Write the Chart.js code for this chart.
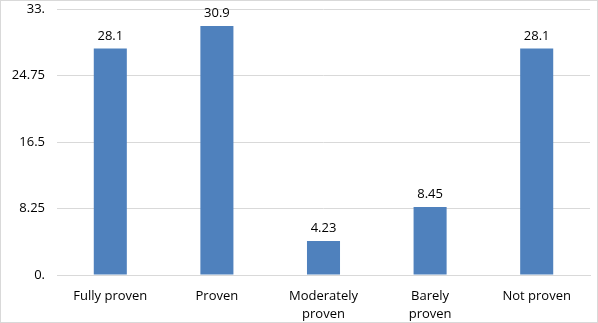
<!DOCTYPE html>
<html>
<head>
<meta charset="utf-8">
<script src="https://cdn.jsdelivr.net/npm/chart.js@4/dist/chart.umd.min.js"></script>
<style>
  body { margin: 0; background: #fff; }
  #wrap { width: 598px; height: 323px; }
</style>
</head>
<body>
<div id="wrap"><canvas id="myChart" width="598" height="323"></canvas></div>
<script>
// chart data
const categories = ['Fully proven', 'Proven', ['Moderately', 'proven'], ['Barely', 'proven'], 'Not proven']
const values = [28.1, 30.9, 4.23, 8.45, 28.1]
const tickValues = [0, 8.25, 16.5, 24.75, 33]
const tickLabels = ['0.', '8.25', '16.5', '24.75', '33.']

const font = "'Open Sans', 'Liberation Sans', sans-serif"

// draws value above each bar + outer border
const extras = {
    id: 'extras',
    beforeDraw: chart => {
        const ctx = chart.ctx
        ctx.save()
        ctx.fillStyle = '#fff'
        ctx.fillRect(0, 0, chart.width, chart.height)
        ctx.strokeStyle = '#d9d9d9'
        ctx.lineWidth = 1
        ctx.strokeRect(0.5, 0.5, chart.width - 1, chart.height - 1)
        ctx.restore()
    },
    afterDatasetsDraw: chart => {
        const ctx = chart.ctx
        const meta = chart.getDatasetMeta(0)
        ctx.save()
        ctx.font = '13px ' + font
        ctx.fillStyle = '#000'
        ctx.textAlign = 'center'
        ctx.textBaseline = 'bottom'
        meta.data.forEach((bar, i) => {
            ctx.fillText(String(values[i]), bar.x, bar.y - 6)
        })
        ctx.restore()
    }
}

new Chart(document.getElementById('myChart'), {
    type: 'bar',
    data: {
        labels: categories,
        datasets: [{
            data: values,
            backgroundColor: '#4f81bd',
            categoryPercentage: 1,
            barPercentage: 0.31
        }]
    },
    options: {
        responsive: false,
        animation: false,
        layout: { padding: { top: 0, right: 8, left: 0, bottom: 0 } },
        plugins: { legend: { display: false }, tooltip: { enabled: false } },
        scales: {
            x: {
                grid: { display: false },
                border: { color: '#d9d9d9' },
                ticks: { color: '#000', font: { family: font, size: 13, lineHeight: 1.35 }, padding: 5, maxRotation: 0, autoSkip: false },
                afterFit: scale => { scale.height = 48 }
            },
            y: {
                min: 0,
                max: 33,
                afterBuildTicks: scale => { scale.ticks = tickValues.map(v => ({ value: v })) },
                grid: { color: '#d9d9d9', drawTicks: false },
                border: { display: false },
                ticks: {
                    color: '#000',
                    font: { family: font, size: 13 },
                    padding: 12,
                    callback: (v, i) => tickLabels[i]
                },
                afterFit: scale => {
                    scale.width = 57
                    scale.paddingTop = 9
                    scale.paddingBottom = 0
                }
            }
        }
    },
    plugins: [extras]
})
</script>
</body>
</html>
